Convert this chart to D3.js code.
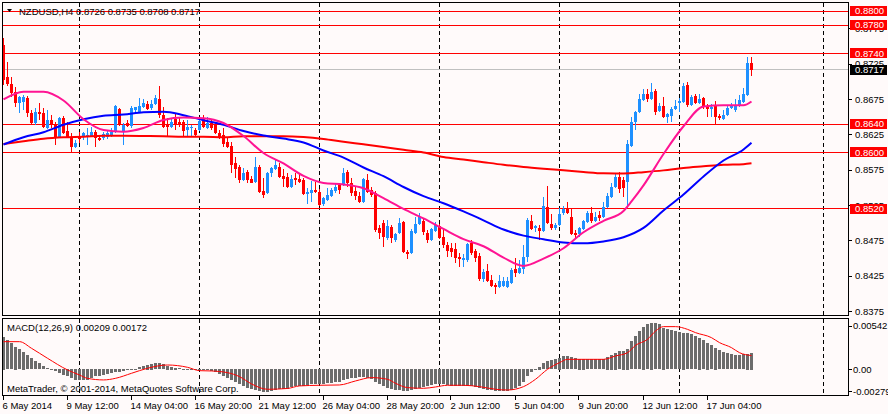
<!DOCTYPE html>
<html>
<head>
<meta charset="utf-8">
<script src="https://cdnjs.cloudflare.com/ajax/libs/d3/7.8.5/d3.min.js"></script>
<style>
  body { margin: 0; background: #fffafa; }
  svg { display: block; }
  text { font-family: "Liberation Sans", Arial, sans-serif; font-size: 9.5px; fill: #000; }
</style>
</head>
<body>
<div id="chart"></div>
<script>
// NZDUSD H4 candles, 6 May 2014 20:00 onwards (one value per bar)
var open = [
  0.8752,0.8707,0.8697,0.8685,0.8670,0.8671,0.8677,0.8656,0.8642,0.8657,
  0.8656,0.8635,0.8646,0.8639,0.8622,0.8649,0.8630,0.8622,0.8608,0.8622,
  0.8622,0.8622,0.8623,0.8629,0.8620,0.8620,0.8622,0.8623,0.8630,0.8661,
  0.8630,0.8642,0.8637,0.8660,0.8657,0.8664,0.8668,0.8663,0.8668,0.8676,
  0.8653,0.8640,0.8636,0.8647,0.8643,0.8643,0.8632,0.8635,0.8632,0.8632,
  0.8649,0.8635,0.8642,0.8640,0.8627,0.8625,0.8615,0.8609,0.8585,0.8579,
  0.8561,0.8572,0.8562,0.8558,0.8579,0.8545,0.8543,0.8571,0.8577,0.8579,
  0.8567,0.8565,0.8551,0.8564,0.8562,0.8561,0.8541,0.8543,0.8547,0.8544,
  0.8527,0.8533,0.8538,0.8545,0.8554,0.8554,0.8572,0.8557,0.8545,0.8538,
  0.8530,0.8561,0.8547,0.8543,0.8493,0.8500,0.8479,0.8495,0.8476,0.8486,
  0.8502,0.8459,0.8458,0.8486,0.8499,0.8503,0.8486,0.8476,0.8489,0.8496,
  0.8480,0.8469,0.8465,0.8463,0.8452,0.8448,0.8448,0.8472,0.8461,0.8454,
  0.8421,0.8432,0.8420,0.8413,0.8410,0.8411,0.8410,0.8415,0.8435,0.8430,
  0.8435,0.8452,0.8503,0.8493,0.8493,0.8489,0.8523,0.8499,0.8493,0.8497,
  0.8514,0.8520,0.8509,0.8486,0.8485,0.8492,0.8502,0.8514,0.8503,0.8512,
  0.8509,0.8523,0.8537,0.8551,0.8565,0.8561,0.8558,0.8609,0.8643,0.8657,
  0.8674,0.8683,0.8676,0.8687,0.8659,0.8666,0.8650,0.8652,0.8661,0.8670,
  0.8671,0.8695,0.8667,0.8680,0.8670,0.8677,0.8664,0.8661,0.8666,0.8652,
  0.8647,0.8653,0.8663,0.8660,0.8666,0.8671,0.8681,0.8726]
var high = [
  0.8762,0.8728,0.8707,0.8692,0.8680,0.8681,0.8680,0.8660,0.8663,0.8670,
  0.8663,0.8660,0.8653,0.8643,0.8650,0.8652,0.8643,0.8627,0.8618,0.8629,
  0.8629,0.8635,0.8636,0.8632,0.8625,0.8629,0.8632,0.8635,0.8667,0.8663,
  0.8642,0.8646,0.8666,0.8664,0.8677,0.8676,0.8673,0.8674,0.8681,0.8694,
  0.8664,0.8649,0.8649,0.8656,0.8649,0.8646,0.8646,0.8639,0.8635,0.8649,
  0.8653,0.8650,0.8646,0.8643,0.8632,0.8635,0.8620,0.8615,0.8594,0.8582,
  0.8578,0.8575,0.8567,0.8594,0.8582,0.8564,0.8572,0.8579,0.8591,0.8585,
  0.8577,0.8571,0.8568,0.8571,0.8569,0.8564,0.8550,0.8560,0.8558,0.8548,
  0.8537,0.8550,0.8550,0.8557,0.8557,0.8578,0.8575,0.8564,0.8551,0.8544,
  0.8564,0.8569,0.8551,0.8545,0.8497,0.8504,0.8504,0.8497,0.8486,0.8507,
  0.8503,0.8462,0.8492,0.8509,0.8514,0.8507,0.8490,0.8493,0.8502,0.8499,
  0.8493,0.8473,0.8472,0.8472,0.8458,0.8456,0.8472,0.8476,0.8463,0.8458,
  0.8435,0.8442,0.8427,0.8415,0.8427,0.8424,0.8424,0.8437,0.8451,0.8448,
  0.8469,0.8507,0.8512,0.8497,0.8497,0.8537,0.8553,0.8513,0.8500,0.8521,
  0.8524,0.8530,0.8521,0.8490,0.8495,0.8504,0.8517,0.8523,0.8516,0.8517,
  0.8530,0.8543,0.8557,0.8571,0.8572,0.8565,0.8618,0.8650,0.8659,0.8683,
  0.8690,0.8690,0.8698,0.8690,0.8670,0.8678,0.8656,0.8664,0.8674,0.8677,
  0.8698,0.8700,0.8681,0.8683,0.8683,0.8678,0.8668,0.8668,0.8673,0.8654,
  0.8660,0.8666,0.8670,0.8676,0.8681,0.8691,0.8735,0.8735]
var low = [
  0.8695,0.8694,0.8678,0.8664,0.8656,0.8660,0.8650,0.8640,0.8639,0.8646,
  0.8635,0.8633,0.8635,0.8610,0.8620,0.8626,0.8620,0.8601,0.8606,0.8613,
  0.8618,0.8610,0.8622,0.8608,0.8616,0.8618,0.8619,0.8622,0.8627,0.8637,
  0.8610,0.8636,0.8635,0.8656,0.8656,0.8663,0.8660,0.8660,0.8667,0.8649,
  0.8635,0.8623,0.8635,0.8632,0.8636,0.8622,0.8623,0.8622,0.8623,0.8630,
  0.8635,0.8633,0.8632,0.8626,0.8619,0.8608,0.8606,0.8571,0.8564,0.8557,
  0.8560,0.8557,0.8558,0.8557,0.8543,0.8536,0.8541,0.8565,0.8575,0.8564,
  0.8551,0.8550,0.8550,0.8554,0.8557,0.8540,0.8527,0.8530,0.8543,0.8524,
  0.8524,0.8531,0.8537,0.8543,0.8541,0.8553,0.8551,0.8538,0.8533,0.8528,
  0.8528,0.8543,0.8537,0.8487,0.8478,0.8466,0.8476,0.8472,0.8473,0.8485,
  0.8458,0.8449,0.8456,0.8485,0.8497,0.8483,0.8472,0.8475,0.8487,0.8478,
  0.8465,0.8452,0.8452,0.8444,0.8438,0.8438,0.8445,0.8455,0.8445,0.8418,
  0.8417,0.8417,0.8410,0.8400,0.8408,0.8410,0.8408,0.8414,0.8424,0.8428,
  0.8428,0.8445,0.8490,0.8487,0.8476,0.8487,0.8499,0.8490,0.8490,0.8496,
  0.8512,0.8513,0.8483,0.8479,0.8480,0.8490,0.8500,0.8500,0.8502,0.8503,
  0.8507,0.8521,0.8536,0.8550,0.8543,0.8537,0.8521,0.8608,0.8632,0.8656,
  0.8673,0.8671,0.8674,0.8653,0.8657,0.8649,0.8642,0.8643,0.8660,0.8657,
  0.8670,0.8664,0.8666,0.8668,0.8668,0.8661,0.8650,0.8650,0.8640,0.8646,
  0.8646,0.8652,0.8661,0.8657,0.8664,0.8670,0.8680,0.8708]
var close = [
  0.8702,0.8697,0.8684,0.8670,0.8678,0.8678,0.8656,0.8642,0.8657,0.8654,
  0.8636,0.8646,0.8639,0.8622,0.8649,0.8627,0.8622,0.8608,0.8613,0.8619,
  0.8627,0.8625,0.8629,0.8620,0.8618,0.8626,0.8627,0.8629,0.8666,0.8639,
  0.8639,0.8637,0.8663,0.8664,0.8666,0.8670,0.8661,0.8668,0.8677,0.8653,
  0.8636,0.8636,0.8643,0.8639,0.8639,0.8630,0.8636,0.8636,0.8625,0.8644,
  0.8636,0.8642,0.8635,0.8627,0.8620,0.8612,0.8608,0.8582,0.8577,0.8561,
  0.8571,0.8561,0.8557,0.8579,0.8544,0.8540,0.8571,0.8578,0.8582,0.8565,
  0.8562,0.8551,0.8562,0.8561,0.8558,0.8541,0.8544,0.8547,0.8544,0.8526,
  0.8536,0.8540,0.8547,0.8551,0.8547,0.8571,0.8557,0.8543,0.8538,0.8530,
  0.8562,0.8544,0.8540,0.8490,0.8486,0.8480,0.8496,0.8479,0.8485,0.8500,
  0.8459,0.8456,0.8489,0.8499,0.8509,0.8487,0.8476,0.8492,0.8497,0.8479,
  0.8469,0.8461,0.8459,0.8451,0.8449,0.8451,0.8471,0.8458,0.8451,0.8421,
  0.8431,0.8418,0.8411,0.8410,0.8418,0.8418,0.8418,0.8434,0.8430,0.8437,
  0.8452,0.8504,0.8492,0.8496,0.8489,0.8524,0.8500,0.8493,0.8497,0.8513,
  0.8520,0.8514,0.8485,0.8483,0.8493,0.8503,0.8514,0.8503,0.8509,0.8507,
  0.8523,0.8538,0.8551,0.8565,0.8548,0.8550,0.8612,0.8643,0.8657,0.8676,
  0.8683,0.8676,0.8685,0.8657,0.8666,0.8650,0.8654,0.8661,0.8666,0.8673,
  0.8694,0.8667,0.8678,0.8670,0.8676,0.8664,0.8661,0.8664,0.8650,0.8649,
  0.8653,0.8663,0.8666,0.8667,0.8674,0.8683,0.8726,0.8717]

// moving averages, read every few bars
var maIndex = [0,5,10,15,20,25,30,35,40,45,50,55,60,65,70,75,80,85,90,95,100,105,110,115,120,125,130,135,140,145,150,155,160,165,170,175,180,185,187]
var maBlue = [0.86112,0.86215,0.86286,0.86391,0.86470,0.86520,0.86537,0.86568,0.86576,0.86527,0.86456,0.86391,0.86303,0.86240,0.86196,0.86141,0.86027,0.85926,0.85787,0.85664,0.85511,0.85381,0.85281,0.85165,0.85040,0.84910,0.84823,0.84772,0.84727,0.84715,0.84741,0.84800,0.84932,0.85179,0.85405,0.85660,0.85886,0.86042,0.86138]
var maRed = [0.86119,0.86158,0.86194,0.86213,0.86221,0.86235,0.86235,0.86232,0.86227,0.86220,0.86221,0.86214,0.86230,0.86230,0.86230,0.86218,0.86190,0.86150,0.86115,0.86078,0.86037,0.85999,0.85936,0.85900,0.85862,0.85825,0.85794,0.85769,0.85747,0.85723,0.85704,0.85702,0.85721,0.85746,0.85780,0.85803,0.85825,0.85834,0.85846]
var pinkIndex = [0,5,10,15,20,25,30,35,40,45,50,55,60,65,70,75,80,85,90,95,100,105,110,115,120,125,130,135,140,145,150,155,157,160,165,170,175,180,185,187]
var maPink = [0.86749,0.86859,0.86857,0.86734,0.86469,0.86317,0.86293,0.86346,0.86459,0.86493,0.86484,0.86416,0.86232,0.85992,0.85844,0.85667,0.85568,0.85547,0.85493,0.85352,0.85200,0.85066,0.84917,0.84773,0.84673,0.84512,0.84394,0.84498,0.84645,0.84871,0.85033,0.85172,0.85306,0.85533,0.85978,0.86370,0.86650,0.86668,0.86667,0.86720]

// MACD(12,26,9) main histogram, one value per bar
var macdMain = [
  0.00409,0.00367,0.00325,0.00284,0.00250,0.00221,0.00179,0.00138,0.00104,0.00075,
  0.00042,0.00013,-0.00008,-0.00029,-0.00050,-0.00071,-0.00092,-0.00113,-0.00133,-0.00142,
  -0.00142,-0.00133,-0.00113,-0.00092,-0.00083,-0.00075,-0.00063,-0.00054,-0.00042,-0.00033,
  -0.00021,-0.00013,-0.00004,0.00008,0.00025,0.00042,0.00058,0.00071,0.00079,0.00075,
  0.00063,0.00046,0.00033,0.00021,0.00013,0.00004,-0.00004,-0.00013,-0.00017,-0.00013,
  -0.00008,-0.00017,-0.00025,-0.00042,-0.00058,-0.00083,-0.00108,-0.00138,-0.00167,-0.00192,
  -0.00217,-0.00238,-0.00250,-0.00263,-0.00275,-0.00292,-0.00284,-0.00271,-0.00259,-0.00250,
  -0.00250,-0.00250,-0.00225,-0.00217,-0.00208,-0.00208,-0.00200,-0.00192,-0.00192,-0.00192,
  -0.00183,-0.00175,-0.00175,-0.00167,-0.00158,-0.00142,-0.00125,-0.00117,-0.00108,-0.00104,
  -0.00104,-0.00117,-0.00125,-0.00158,-0.00188,-0.00217,-0.00238,-0.00250,-0.00259,-0.00263,
  -0.00275,-0.00279,-0.00267,-0.00250,-0.00234,-0.00229,-0.00217,-0.00200,-0.00188,-0.00188,
  -0.00192,-0.00200,-0.00208,-0.00217,-0.00217,-0.00208,-0.00208,-0.00217,-0.00225,-0.00238,
  -0.00250,-0.00259,-0.00263,-0.00271,-0.00271,-0.00271,-0.00271,-0.00259,-0.00242,-0.00208,
  -0.00167,-0.00092,-0.00033,0.00008,0.00033,0.00075,0.00100,0.00117,0.00125,0.00146,
  0.00167,0.00167,0.00150,0.00138,0.00133,0.00133,0.00129,0.00125,0.00125,0.00125,
  0.00125,0.00158,0.00183,0.00208,0.00225,0.00234,0.00259,0.00354,0.00417,0.00475,
  0.00534,0.00567,0.00584,0.00575,0.00563,0.00521,0.00500,0.00492,0.00480,0.00467,
  0.00459,0.00450,0.00438,0.00417,0.00396,0.00363,0.00334,0.00300,0.00271,0.00238,
  0.00217,0.00200,0.00188,0.00175,0.00175,0.00188,0.00196,0.00209]
var signalIndex = [0,4,7,11,16,19,21,25,28,32,36,41,46,49,52,56,59,62,66,71,74,79,84,88,92,96,98,101,105,108,111,115,119,123,126,130,133,136,139,141,146,150,153,156,158,161,163,165,168,171,173,177,179,182,184,187]
var macdSignal = [0.00346,0.00346,0.00263,0.00138,-0.00008,-0.00071,-0.00113,-0.00133,-0.00113,-0.00050,0.00013,0.00054,0.00025,-0.00017,-0.00021,-0.00042,-0.00092,-0.00183,-0.00250,-0.00240,-0.00208,-0.00200,-0.00196,-0.00146,-0.00104,-0.00125,-0.00175,-0.00229,-0.00238,-0.00221,-0.00200,-0.00200,-0.00217,-0.00250,-0.00259,-0.00217,-0.00125,0.00000,0.00083,0.00125,0.00125,0.00125,0.00167,0.00208,0.00300,0.00375,0.00479,0.00534,0.00534,0.00500,0.00459,0.00396,0.00334,0.00271,0.00208,0.00172]

// horizontal levels and axis labels
var redLevels = [0.8800, 0.8780, 0.8740, 0.8640, 0.8600, 0.8520]
var priceTicks = [0.8375, 0.8425, 0.8475, 0.8525, 0.8575, 0.8625, 0.8675, 0.8725, 0.8775]
var macdTicks = [0.00542, 0, -0.00279]
var timeIndex = [0,16,32,48,64,80,96,112,128,144,160,176]
var timeLabels = ["6 May 2014","9 May 12:00","14 May 04:00","16 May 20:00","21 May 12:00","26 May 04:00","28 May 20:00","2 Jun 12:00","5 Jun 04:00","9 Jun 20:00","12 Jun 12:00","17 Jun 04:00"]
var gridIndex = [19,49,79,109,139,169,205]

var W = 888, H = 414
var left = 2.5, right = 848.5
var mainTop = 2.5, mainBottom = 315.5
var subTop = 318.5, subBottom = 395.5
var last = close.length - 1

var x = d3.scaleLinear().domain([0, 187]).range([3.5, 751.5])
var y = d3.scaleLinear().domain([0.8375, 0.8800]).range([311.5, 11])
var ym = d3.scaleLinear().domain([0, 0.00542]).range([369.3, 326])
var crisp = function(v) { return Math.round(v - 0.5) + 0.5 }

var svg = d3.select("#chart").append("svg")
    .attr("width", W)
    .attr("height", H)

svg.append("rect").attr("width", W).attr("height", H).attr("fill", "#fffafa")

var defs = svg.append("defs")
defs.append("clipPath").attr("id", "clipMain").append("rect")
    .attr("x", left).attr("y", mainTop).attr("width", right - left).attr("height", mainBottom - mainTop)
defs.append("clipPath").attr("id", "clipSub").append("rect")
    .attr("x", left).attr("y", subTop).attr("width", right - left).attr("height", subBottom - subTop)

// dashed vertical grid in both windows
gridIndex.forEach(function(i) {
  var gx = crisp(x(i))
  ;[[mainTop, mainBottom], [subTop, subBottom]].forEach(function(r) {
    svg.append("line")
        .attr("x1", gx).attr("x2", gx)
        .attr("y1", r[0]).attr("y2", r[1])
        .attr("stroke", "#000")
        .attr("stroke-dasharray", "4,3")
        .attr("shape-rendering", "crispEdges")
  })
})

var main = svg.append("g").attr("clip-path", "url(#clipMain)")

// level lines
main.selectAll(".level")
    .data(redLevels)
    .enter().append("line")
    .attr("x1", left).attr("x2", right)
    .attr("y1", d => crisp(y(d))).attr("y2", d => crisp(y(d)))
    .attr("stroke", "#ff0000")
    .attr("shape-rendering", "crispEdges")

main.append("line")
    .attr("x1", left).attr("x2", right)
    .attr("y1", crisp(y(close[last]))).attr("y2", crisp(y(close[last])))
    .attr("stroke", "#c0c0c0")
    .attr("shape-rendering", "crispEdges")

// candles
var bars = main.selectAll(".bar")
    .data(d3.range(close.length))
    .enter().append("g")
    .attr("fill", i => close[i] >= open[i] ? "#1e90ff" : "#ff0000")
    .attr("shape-rendering", "crispEdges")

bars.append("rect")
    .attr("x", i => x(i) - 0.5)
    .attr("width", 1)
    .attr("y", i => Math.round(y(high[i])))
    .attr("height", i => Math.max(1, Math.round(y(low[i])) - Math.round(y(high[i]))))

bars.append("rect")
    .attr("x", i => x(i) - 1.5)
    .attr("width", 3)
    .attr("y", i => Math.round(y(Math.max(open[i], close[i]))))
    .attr("height", i => Math.max(1, Math.round(y(Math.min(open[i], close[i]))) - Math.round(y(Math.max(open[i], close[i])))))

// moving averages
var maLine = d3.line()
    .x(d => x(d[0]))
    .y(d => y(d[1]))
    .curve(d3.curveMonotoneX)

main.append("path").datum(d3.zip(maIndex, maRed))
    .attr("fill", "none").attr("stroke", "#ff0000").attr("stroke-width", 2).attr("d", maLine)
main.append("path").datum(d3.zip(maIndex, maBlue))
    .attr("fill", "none").attr("stroke", "#0000ff").attr("stroke-width", 2).attr("d", maLine)
main.append("path").datum(d3.zip(pinkIndex, maPink))
    .attr("fill", "none").attr("stroke", "#ff1493").attr("stroke-width", 2).attr("d", maLine)

// MACD window
var sub = svg.append("g").attr("clip-path", "url(#clipSub)")

sub.selectAll(".hist")
    .data(macdMain)
    .enter().append("rect")
    .attr("x", (d, i) => x(i) - 1.5)
    .attr("width", 3)
    .attr("y", d => Math.round(Math.min(ym(d), ym(0))))
    .attr("height", d => Math.max(1, Math.round(Math.abs(ym(d) - ym(0)))))
    .attr("fill", "#6c6c6c")
    .attr("shape-rendering", "crispEdges")

sub.append("path").datum(d3.zip(signalIndex, macdSignal))
    .attr("fill", "none").attr("stroke", "#ff0000").attr("stroke-width", 1)
    .attr("d", d3.line().x(d => x(d[0])).y(d => ym(d[1])).curve(d3.curveMonotoneX))

// frames
svg.append("rect")
    .attr("x", left).attr("y", mainTop).attr("width", right - left).attr("height", mainBottom - mainTop)
    .attr("fill", "none").attr("stroke", "#000").attr("shape-rendering", "crispEdges")
svg.append("rect")
    .attr("x", left).attr("y", subTop).attr("width", right - left).attr("height", subBottom - subTop)
    .attr("fill", "none").attr("stroke", "#000").attr("shape-rendering", "crispEdges")

// right price axis
var pAxis = svg.append("g")
pAxis.selectAll("line")
    .data(priceTicks)
    .enter().append("line")
    .attr("x1", right).attr("x2", right + 3)
    .attr("y1", d => crisp(y(d))).attr("y2", d => crisp(y(d)))
    .attr("stroke", "#000").attr("shape-rendering", "crispEdges")
pAxis.selectAll("text")
    .data(priceTicks)
    .enter().append("text")
    .attr("x", 855).attr("y", d => y(d)).attr("dy", "0.35em")
    .text(d => d.toFixed(4))

var tags = redLevels.map(v => ({v: v, c: "#ff0000"}))
tags.push({v: close[last], c: "#000000"})
var tag = svg.selectAll(".tag").data(tags).enter().append("g")
tag.append("rect")
    .attr("x", 850).attr("width", 37)
    .attr("y", d => Math.round(y(d.v)) - 5).attr("height", 10)
    .attr("fill", d => d.c)
tag.append("text")
    .attr("x", 855).attr("y", d => y(d.v)).attr("dy", "0.35em")
    .style("fill", "#fff")
    .text(d => d.v.toFixed(4))

// MACD axis
var mAxis = svg.append("g")
mAxis.selectAll("line")
    .data(macdTicks)
    .enter().append("line")
    .attr("x1", right).attr("x2", right + 3)
    .attr("y1", d => crisp(ym(d))).attr("y2", d => crisp(ym(d)))
    .attr("stroke", "#000").attr("shape-rendering", "crispEdges")
mAxis.selectAll("text")
    .data(macdTicks)
    .enter().append("text")
    .attr("x", 853).attr("y", d => ym(d)).attr("dy", "0.35em")
    .text(d => d === 0 ? "0.00" : d.toFixed(5))

// time axis
var tAxis = svg.append("g")
tAxis.selectAll("line")
    .data(timeIndex)
    .enter().append("line")
    .attr("x1", d => crisp(x(d) - 0.5)).attr("x2", d => crisp(x(d) - 0.5))
    .attr("y1", subBottom).attr("y2", subBottom + 4)
    .attr("stroke", "#000").attr("shape-rendering", "crispEdges")
tAxis.selectAll("text")
    .data(timeIndex)
    .enter().append("text")
    .attr("x", d => x(d) - 1).attr("y", 409)
    .text((d, i) => timeLabels[i])

// captions
svg.append("path").attr("d", "M7,9 L12,9 L9.5,12 Z").attr("fill", "#000")
svg.append("text").attr("x", 19).attr("y", 14.5)
    .text("NZDUSD,H4 " + [open[last], high[last], low[last], close[last]].map(v => v.toFixed(4)).join(" "))
svg.append("text").attr("x", 7).attr("y", 330.5)
    .text("MACD(12,26,9) " + macdMain[last].toFixed(5) + " " + macdSignal[macdSignal.length - 1].toFixed(5))
svg.append("text").attr("x", 7).attr("y", 392)
    .text("MetaTrader, \u00a9 2001-2014, MetaQuotes Software Corp.")
</script>
</body>
</html>
